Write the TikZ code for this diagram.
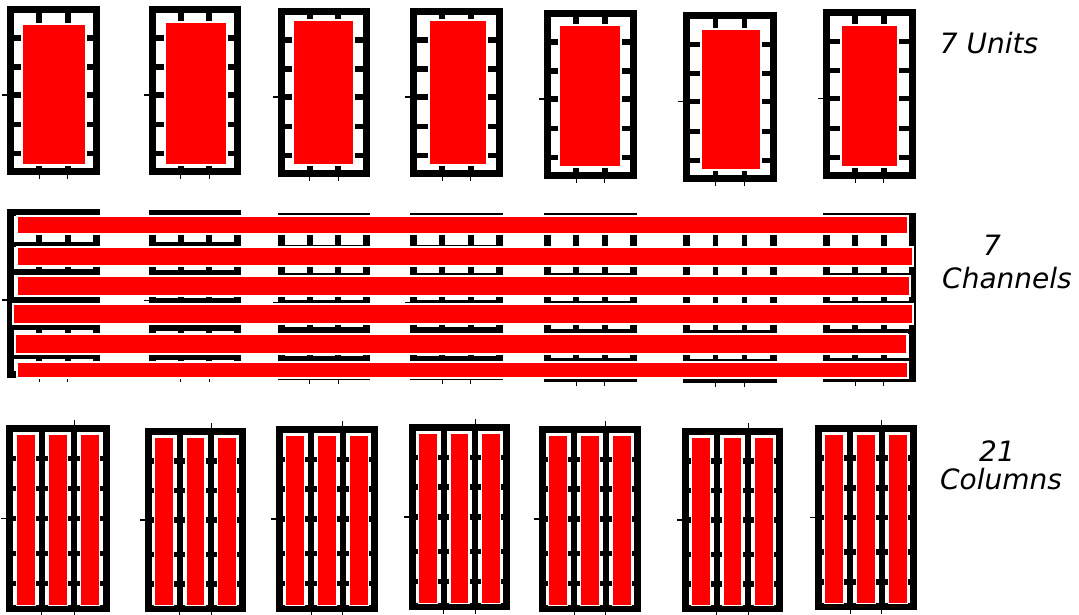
\documentclass[tikz,border=0pt]{standalone}
\usepackage{fontspec}
\setmainfont{DejaVu Sans}
\usetikzlibrary{positioning}
\newcommand{\gridpanel}[5]{%
  \pgfmathsetmacro{\gxa}{#1+3.5}
  \pgfmathsetmacro{\gya}{#2+3.5}
  \pgfmathsetmacro{\gxb}{#3-3.5}
  \pgfmathsetmacro{\gyb}{#4-3.5}
  \foreach \f in {#5}
    \draw[gridline] (\gxa,{\gya+\f*(\gyb-\gya)}) -- (\gxb,{\gya+\f*(\gyb-\gya)});
  \foreach \f in {1,2}
    \draw[gridline] ({\gxa+\f*(\gxb-\gxa)/3},\gya) -- ({\gxa+\f*(\gxb-\gxa)/3},\gyb)
      ({\gxa+\f*(\gxb-\gxa)/3},\gyb) edge[tickline] ++(0,7);
  \draw[frameline] (\gxa,\gya) rectangle (\gxb,\gyb);}

\begin{document}
\begin{tikzpicture}[x=1pt,y=-1pt,
  gridline/.style={line width=5.5pt},
  frameline/.style={line width=7pt},
  tickline/.style={line width=1.2pt},
  redfill/.style={fill=red,draw=white,line width=1.2pt},
  caption/.style={font=\itshape\fontsize{28}{33}\selectfont,anchor=base,inner sep=0pt}]
\useasboundingbox (0,0) rectangle (1079,614);

\foreach \xa/\ya/\xb/\yb/\rxa/\rya/\rxb/\ryb in {7/6/100/175/22/24/86/165,149/6/241/175/165/22/227/165,278/8/370/177/293/20/354/165,410/8/503/177/429/20/487/165,544/10/637/179/559/25/621/167,683/12/777/182/701/29/761/170,823/9/916/179/841/25/898/167}{
  \gridpanel{\xa}{\ya}{\xb}{\yb}{0.177,0.356,0.528,0.711,0.89}
  \draw[tickline] (\xa,{\ya+3.5+0.528*(\yb-\ya-7)}) -- ++(-5,0);
  \draw[redfill] (\rxa,\rya) rectangle (\rxb,\ryb);
}

\foreach \xa/\ya/\xb/\yb in {7/209/100/378,149/210/241/378,278/213/370/380,410/213/503/380,544/213/637/382,683/215/777/383,823/213/916/382}{
  \gridpanel{\xa}{\ya}{\xb}{\yb}{0.196,0.368,0.54,0.71,0.89}
  \draw[tickline] (\xa,{\ya+3.5+0.54*(\yb-\ya-7)}) -- ++(-5,0);
}
\foreach \ya/\yb/\xa/\xb in {216/234/17/908,247/266/17/913,276/296/17/910,304/324/13/913,334/354/15/907,362/378/17/908}
  \draw[redfill] (\xa,\ya) rectangle (\xb,\yb);

\foreach \xa/\ya/\xb/\yb in {6/425/110/612,145/428/246/612,276/426/378/612,409/424/510/610,539/426/641/612,682/428/783/612,815/425/917/610}{
  \gridpanel{\xa}{\ya}{\xb}{\yb}{0.167,0.333,0.5,0.694,0.861}
  \draw[tickline] (\xa,{\ya+3.5+0.5*(\yb-\ya-7)}) -- ++(-5,0);
  \draw[tickline] ({\xa+3.5+2*(\xb-\xa-7)/3},\ya) -- ++(0,-5);
  \foreach \c in {0,1,2}
    \draw[redfill] ({\xa+3.5+(\c+0.5)*(\xb-\xa-7)/3-9.5},\ya+9.5) rectangle ({\xa+3.5+(\c+0.5)*(\xb-\xa-7)/3+9.5},\yb-6.5);
}

\node[caption] (units) at (989,53) {7 Units};
\node[caption] (chnum) at (992,255) {7};
\node[caption] (chname) at (1007,288) {Channels};
\node[caption] (colnum) at (997,461) {21};
\node[caption] (colname) at (1001,489) {Columns};
\end{tikzpicture}
\end{document}
